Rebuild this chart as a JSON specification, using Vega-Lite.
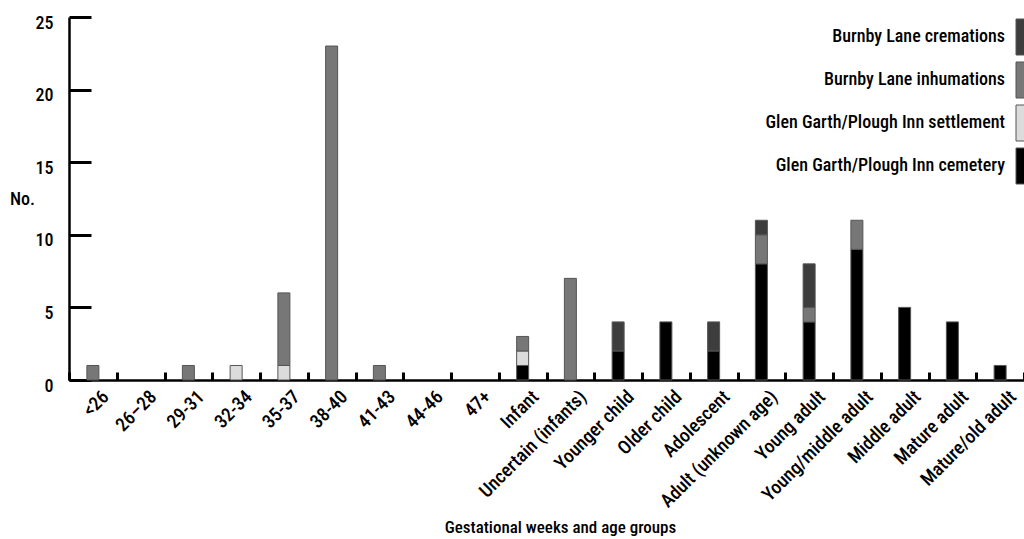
{
  "$schema": "https://vega.github.io/schema/vega-lite/v6.json",
  "width": 955,
  "height": 363,
  "autosize": {"type": "none"},
  "padding": {"left": 69, "top": 17, "right": 0, "bottom": 159},
  "background": "white",
  "config": {
    "view": {"stroke": null},
    "font": "Roboto Condensed, Roboto, sans-serif"
  },
  "data": {
    "values": [
      {"group": "<26", "source": "Burnby Lane inhumations", "count": 1, "ord": 3},
      {"group": "29-31", "source": "Burnby Lane inhumations", "count": 1, "ord": 3},
      {"group": "32-34", "source": "Glen Garth/Plough Inn settlement", "count": 1, "ord": 2},
      {"group": "35-37", "source": "Glen Garth/Plough Inn settlement", "count": 1, "ord": 2},
      {"group": "35-37", "source": "Burnby Lane inhumations", "count": 5, "ord": 3},
      {"group": "38-40", "source": "Burnby Lane inhumations", "count": 23, "ord": 3},
      {"group": "41-43", "source": "Burnby Lane inhumations", "count": 1, "ord": 3},
      {"group": "Infant", "source": "Glen Garth/Plough Inn cemetery", "count": 1, "ord": 1},
      {"group": "Infant", "source": "Glen Garth/Plough Inn settlement", "count": 1, "ord": 2},
      {"group": "Infant", "source": "Burnby Lane inhumations", "count": 1, "ord": 3},
      {"group": "Uncertain (infants)", "source": "Burnby Lane inhumations", "count": 7, "ord": 3},
      {"group": "Younger child", "source": "Glen Garth/Plough Inn cemetery", "count": 2, "ord": 1},
      {"group": "Younger child", "source": "Burnby Lane cremations", "count": 2, "ord": 4},
      {"group": "Older child", "source": "Glen Garth/Plough Inn cemetery", "count": 4, "ord": 1},
      {"group": "Adolescent", "source": "Glen Garth/Plough Inn cemetery", "count": 2, "ord": 1},
      {"group": "Adolescent", "source": "Burnby Lane cremations", "count": 2, "ord": 4},
      {"group": "Adult (unknown age)", "source": "Glen Garth/Plough Inn cemetery", "count": 8, "ord": 1},
      {"group": "Adult (unknown age)", "source": "Burnby Lane inhumations", "count": 2, "ord": 3},
      {"group": "Adult (unknown age)", "source": "Burnby Lane cremations", "count": 1, "ord": 4},
      {"group": "Young adult", "source": "Glen Garth/Plough Inn cemetery", "count": 4, "ord": 1},
      {"group": "Young adult", "source": "Burnby Lane inhumations", "count": 1, "ord": 3},
      {"group": "Young adult", "source": "Burnby Lane cremations", "count": 3, "ord": 4},
      {"group": "Young/middle adult", "source": "Glen Garth/Plough Inn cemetery", "count": 9, "ord": 1},
      {"group": "Young/middle adult", "source": "Burnby Lane inhumations", "count": 2, "ord": 3},
      {"group": "Middle adult", "source": "Glen Garth/Plough Inn cemetery", "count": 5, "ord": 1},
      {"group": "Mature adult", "source": "Glen Garth/Plough Inn cemetery", "count": 4, "ord": 1},
      {"group": "Mature/old adult", "source": "Glen Garth/Plough Inn cemetery", "count": 1, "ord": 1}
    ]
  },
  "mark": {"type": "bar", "size": 12, "stroke": "#555555", "strokeWidth": 1},
  "encoding": {
    "x": {
      "field": "group",
      "type": "nominal",
      "scale": {
        "domain": ["<26", "26–28", "29-31", "32-34", "35-37", "38-40", "41-43", "44-46", "47+", "Infant", "Uncertain (infants)", "Younger child", "Older child", "Adolescent", "Adult (unknown age)", "Young adult", "Young/middle adult", "Middle adult", "Mature adult", "Mature/old adult"],
        "paddingInner": 0,
        "paddingOuter": 0
      },
      "axis": {
        "title": "Gestational weeks and age groups",
        "titleFontSize": 17,
        "titleFontWeight": 500,
        "titleColor": "#000",
        "titleX": 491,
        "titleY": 139,
        "titleBaseline": "top",
        "titleAlign": "center",
        "titleAnchor": null,
        "labelAngle": -45,
        "labelFontSize": 19,
        "labelFontWeight": 500,
        "labelColor": "#000",
        "labelPadding": 15,
        "labelOffset": 6,
        "tickBand": "extent",
        "tickSize": -8,
        "tickWidth": 3,
        "tickColor": "#000",
        "domainColor": "#000",
        "domainWidth": 2.5
      }
    },
    "y": {
      "field": "count",
      "type": "quantitative",
      "stack": "zero",
      "scale": {"domain": [0, 25]},
      "axis": {
        "title": "No.",
        "titleAngle": 0,
        "titleFontSize": 18,
        "titleFontWeight": 500,
        "titleColor": "#000",
        "titleX": -47,
        "titleY": 182,
        "titleAlign": "center",
        "titleBaseline": "middle",
        "values": [0, 5, 10, 15, 20, 25],
        "labelFontSize": 18,
        "labelFontWeight": 500,
        "labelColor": "#000",
        "labelPadding": 38,
        "labelOffset": 6,
        "tickSize": -22,
        "tickWidth": 3,
        "tickColor": "#000",
        "domainColor": "#000",
        "domainWidth": 2.5,
        "grid": false
      }
    },
    "color": {
      "field": "source",
      "type": "nominal",
      "scale": {
        "domain": ["Burnby Lane cremations", "Burnby Lane inhumations", "Glen Garth/Plough Inn settlement", "Glen Garth/Plough Inn cemetery"],
        "range": ["#3d3d3d", "#777777", "#dcdcdc", "#000000"]
      },
      "legend": {
        "title": null,
        "orient": "none",
        "legendX": 944,
        "legendY": 11,
        "symbolType": "M-1,-3H1V3H-1Z",
        "symbolSize": 144,
        "symbolStrokeColor": "#555555",
        "symbolStrokeWidth": 1,
        "symbolFillColor": "#000",
        "labelAlign": "right",
        "labelOffset": -26,
        "labelLimit": 400,
        "labelFontSize": 18,
        "labelFontWeight": 500,
        "labelColor": "#000",
        "rowPadding": 3
      }
    },
    "order": {"field": "ord", "type": "quantitative"}
  }
}
